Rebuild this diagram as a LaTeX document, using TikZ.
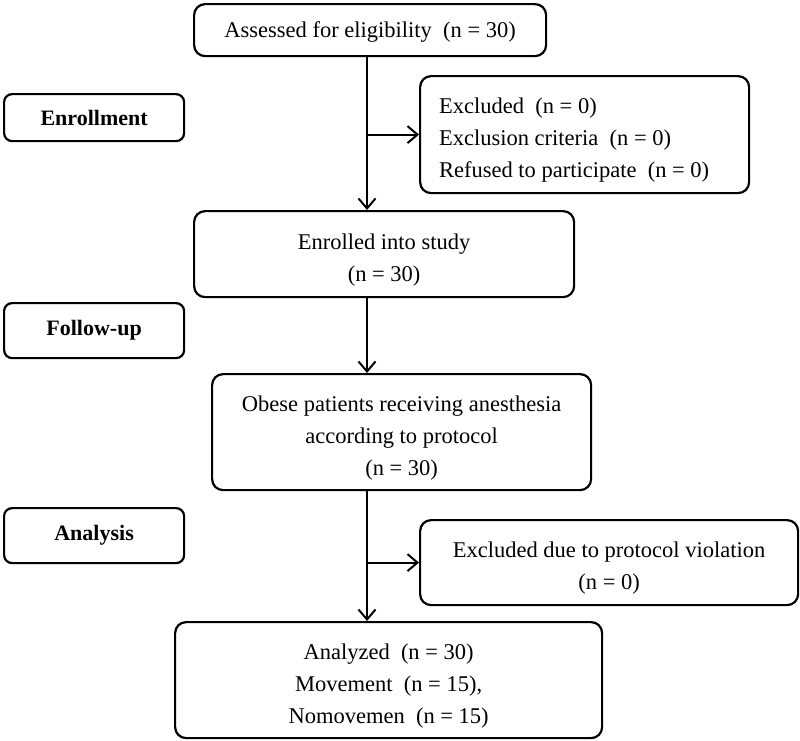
\documentclass[tikz,border=0pt]{standalone}
\usepackage{fontspec}
\setmainfont{Liberation Serif}
\usetikzlibrary{arrows.meta}
\newcommand\mystrut{\rule{0pt}{27pt}}
\begin{document}
\begin{tikzpicture}[x=1pt,y=-1pt,
  box/.style={draw, line width=2.2pt, rounded corners=11pt, anchor=north west, inner sep=0pt, align=center, font=\fontsize{22.5}{32}\selectfont},
  lab/.style={draw, line width=2.2pt, rounded corners=8pt, anchor=north west, inner sep=0pt, minimum width=180pt, font=\fontsize{22}{26}\selectfont\bfseries},
  arr/.style={line width=2pt, -{Straight Barb[length=10pt,width=17pt]}}]
\useasboundingbox (0,0) rectangle (800,740);
\node[box, minimum width=352pt, minimum height=52pt] (assess) at (193,3) {\rule{0pt}{19pt}Assessed for eligibility\enspace(n = 30)};
\node[lab, minimum height=47pt] (enrollL) at (3,93) {Enrollment};
\node[box, minimum width=329pt, minimum height=117pt, text width=291pt, align=flush left, inner xsep=19pt] (excl) at (419,75) {\mystrut Excluded\enspace(n = 0)\\Exclusion criteria\enspace(n = 0)\\Refused to participate\enspace(n = 0)};
\node[box, minimum width=380pt, minimum height=86pt] (enrolled) at (193,210) {\mystrut Enrolled into study\\(n = 30)};
\node[lab, minimum height=55pt] (followL) at (3,302) {Follow-up};
\node[box, minimum width=379pt, minimum height=116pt] (obese) at (211,373) {\mystrut Obese patients receiving anesthesia\\according to protocol\\(n = 30)};
\node[lab, minimum height=55pt] (analysisL) at (3,507) {Analysis};
\node[box, minimum width=378pt, minimum height=85pt] (excl2) at (419,519) {\mystrut Excluded due to protocol violation\\(n = 0)};
\node[box, minimum width=427pt, minimum height=116pt] (analyzed) at (174,621) {\mystrut Analyzed\enspace(n = 30)\\Movement\enspace(n = 15),\\Nomovemen\enspace(n = 15)};
\coordinate (spine) at (367,0);
\draw[arr] (assess.south -| spine) -- (enrolled.north -| spine);
\draw[arr] (excl.west -| spine) -- (excl.west);
\draw[arr] (enrolled.south -| spine) -- (obese.north -| spine);
\draw[arr] (obese.south -| spine) -- (analyzed.north -| spine);
\draw[arr] (excl2.west -| spine) -- (excl2.west);
\end{tikzpicture}
\end{document}
